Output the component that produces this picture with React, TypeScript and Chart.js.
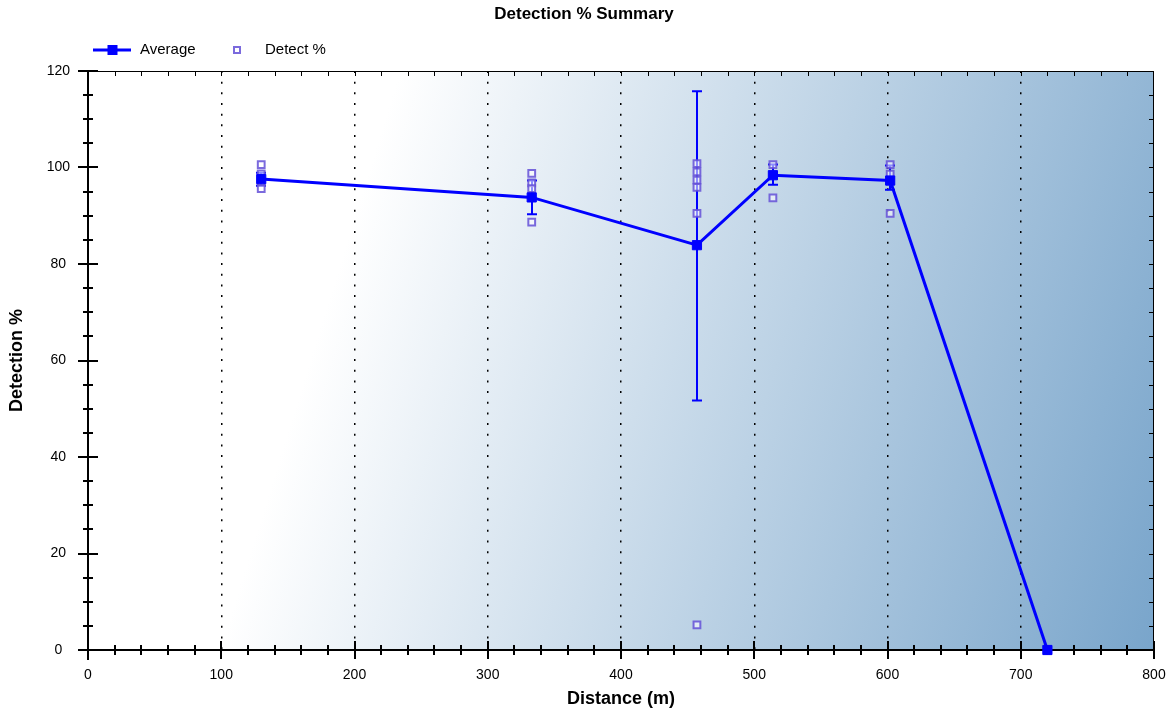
import React, { useEffect, useRef } from "react";
import { Chart, registerables } from "chart.js";
Chart.register(...registerables);

const TITLE = "Detection % Summary";
const X_TITLE = "Distance (m)";
const Y_TITLE = "Detection %";
const avgLabel = "Average";
const detLabel = "Detect %";

const avgDistance = [130, 333, 457, 514, 602, 720];
const avgValue = [97.6, 93.8, 83.9, 98.4, 97.3, 0];
const errLow = [96.2, 90.3, 51.7, 96.4, 95.4, 0];
const errHigh = [98.9, 97.3, 115.8, 100.6, 100.4, 0];

const detectDistance = [
  130, 130, 130, 130,
  333, 333, 333, 333,
  457, 457, 457, 457, 457, 457,
  514, 514, 514,
  602, 602, 602, 602,
  720, 720,
];
const detectValue = [
  100.6, 98.7, 97.0, 95.6,
  98.8, 96.8, 95.6, 88.7,
  100.8, 99.1, 97.4, 95.9, 90.5, 5.2,
  100.6, 98.4, 93.7,
  100.6, 98.6, 97.2, 90.5,
  0, 0,
];

const X_MIN = 0, X_MAX = 800, X_MAJOR = 100, X_MINOR = 20;
const Y_MIN = 0, Y_MAX = 120, Y_MAJOR = 20, Y_MINOR = 5;

const FONT = "'Liberation Sans', Arial, sans-serif";
const BLUE = "#0000ff";
const DET_STROKE = "rgba(100,80,215,0.85)";
const DET_FILL = "rgba(255,255,255,0.55)";

const customPlugin = {
  id: "customDecor",
  beforeDraw(chart: any) {
    const { ctx, chartArea: a } = chart;
    ctx.save();
    ctx.fillStyle = "#ffffff";
    ctx.fillRect(0, 0, chart.width, chart.height);
    const w = a.right - a.left;
    const h = a.bottom - a.top;
    const x0 = a.left + 0.1238 * w;
    const y0 = a.bottom;
    const x1 = x0 + 0.799 * w;
    const y1 = a.bottom + 0.457 * h;
    const g = ctx.createLinearGradient(x0, y0, x1, y1);
    g.addColorStop(0, "rgb(255,255,255)");
    g.addColorStop(1, "rgb(121,165,203)");
    ctx.fillStyle = g;
    ctx.fillRect(a.left, a.top, w, h);
    ctx.restore();
  },
  beforeDatasetsDraw(chart: any) {
    const { ctx, chartArea: a, scales } = chart;
    const xs = scales.x, ys = scales.y;
    ctx.save();
    ctx.strokeStyle = "#000";
    ctx.lineWidth = 1;
    ctx.beginPath();
    ctx.moveTo(a.left, a.top + 0.5);
    ctx.lineTo(a.right, a.top + 0.5);
    ctx.moveTo(a.right - 0.5, a.top);
    ctx.lineTo(a.right - 0.5, a.bottom);
    ctx.stroke();
    ctx.beginPath();
    for (let v = X_MIN + X_MINOR; v < X_MAX; v += X_MINOR) {
      const px = Math.round(xs.getPixelForValue(v)) + 0.5;
      ctx.moveTo(px, a.top);
      ctx.lineTo(px, a.top + 5);
    }
    for (let v = Y_MIN + Y_MINOR; v < Y_MAX; v += Y_MINOR) {
      const py = Math.round(ys.getPixelForValue(v)) + 0.5;
      ctx.moveTo(a.right, py);
      ctx.lineTo(a.right - 5, py);
    }
    ctx.stroke();
    ctx.lineWidth = 2;
    ctx.beginPath();
    ctx.moveTo(a.left, a.top);
    ctx.lineTo(a.left, a.bottom + 10);
    ctx.moveTo(a.left - 10, a.bottom);
    ctx.lineTo(a.right, a.bottom);
    ctx.stroke();
    ctx.beginPath();
    for (let v = Y_MIN; v <= Y_MAX + 0.001; v += Y_MINOR) {
      const py = Math.round(ys.getPixelForValue(v));
      const major = Math.abs(v % Y_MAJOR) < 0.001;
      const len = major ? 10 : 5;
      ctx.moveTo(a.left - len, py);
      ctx.lineTo(a.left + len, py);
    }
    for (let v = X_MIN; v < X_MAX + 0.001; v += X_MINOR) {
      const px = Math.round(xs.getPixelForValue(v));
      const major = Math.abs(v % X_MAJOR) < 0.001;
      const len = major ? 9 : 5;
      ctx.moveTo(px, a.bottom - len);
      ctx.lineTo(px, a.bottom + len);
    }
    ctx.stroke();
    ctx.strokeStyle = BLUE;
    ctx.lineWidth = 2;
    ctx.beginPath();
    for (let i = 0; i < avgDistance.length; i++) {
      if (errHigh[i] === errLow[i]) continue;
      const px = Math.round(xs.getPixelForValue(avgDistance[i]));
      const pHi = ys.getPixelForValue(errHigh[i]);
      const pLo = ys.getPixelForValue(errLow[i]);
      ctx.moveTo(px, pHi);
      ctx.lineTo(px, pLo);
      ctx.moveTo(px - 5, pHi);
      ctx.lineTo(px + 5, pHi);
      ctx.moveTo(px - 5, pLo);
      ctx.lineTo(px + 5, pLo);
    }
    ctx.stroke();
    ctx.restore();
  },
  afterDraw(chart: any) {
    const { ctx } = chart;
    ctx.save();
    ctx.fillStyle = "#000";
    ctx.font = `bold 17px ${FONT}`;
    ctx.textAlign = "center";
    ctx.textBaseline = "middle";
    ctx.fillText(TITLE, 584, 14);
    const ly = 50;
    ctx.strokeStyle = BLUE;
    ctx.lineWidth = 3;
    ctx.beginPath();
    ctx.moveTo(93, ly);
    ctx.lineTo(131, ly);
    ctx.stroke();
    ctx.fillStyle = BLUE;
    ctx.fillRect(107.5, ly - 5, 10, 10);
    ctx.font = `15px ${FONT}`;
    ctx.textAlign = "left";
    ctx.fillStyle = "#000";
    ctx.fillText(avgLabel, 140, ly);
    ctx.fillStyle = DET_FILL;
    ctx.strokeStyle = DET_STROKE;
    ctx.lineWidth = 2;
    ctx.fillRect(234, ly - 3, 6, 6);
    ctx.strokeRect(234, ly - 3, 6, 6);
    ctx.fillStyle = "#000";
    ctx.fillText(detLabel, 265, ly);
    ctx.restore();
  },
};

export default function App() {
  const ref = useRef<HTMLCanvasElement>(null);
  useEffect(() => {
    if (!ref.current) return;
    const chart = new Chart(ref.current, {
      type: "scatter",
      data: {
        datasets: [
          {
            label: avgLabel,
            data: avgDistance.map((x, i) => ({ x, y: avgValue[i] })),
            showLine: true,
            borderColor: BLUE,
            backgroundColor: BLUE,
            borderWidth: 3,
            pointStyle: "rect",
            pointRadius: 6.5,
            pointBorderWidth: 1,
            pointBackgroundColor: BLUE,
            pointBorderColor: BLUE,
            clip: false,
            order: 0,
          } as any,
          {
            label: detLabel,
            data: detectDistance.map((x, i) => ({ x, y: detectValue[i] })),
            showLine: false,
            pointStyle: "rect",
            pointRadius: 4.8,
            pointBorderWidth: 2,
            pointBackgroundColor: DET_FILL,
            pointBorderColor: DET_STROKE,
            clip: false,
            order: 1,
          } as any,
        ],
      },
      options: {
        animation: false,
        responsive: false,
        events: [],
        layout: { padding: { top: 71, right: 15, bottom: 0, left: 0 } },
        plugins: {
          legend: { display: false },
          title: { display: false },
          tooltip: { enabled: false },
        },
        scales: {
          x: {
            type: "linear",
            min: X_MIN,
            max: X_MAX,
            afterFit: (s: any) => {
              s.height = 66;
              s.paddingLeft = 0;
              s.paddingRight = 0;
            },
            ticks: {
              stepSize: X_MAJOR,
              color: "#000",
              font: { family: FONT, size: 14 },
              padding: 17,
              maxRotation: 0,
            },
            grid: {
              drawTicks: false,
              color: (c: any) =>
                c.tick && c.tick.value > X_MIN && c.tick.value < X_MAX ? "#000" : "rgba(0,0,0,0)",
              lineWidth: 1.5,
            },
            border: { display: false, dash: [2, 8.67] },
            title: {
              display: true,
              text: X_TITLE,
              color: "#000",
              font: { family: FONT, size: 18, weight: "bold" },
              padding: { top: 0, bottom: 6 },
            },
          } as any,
          y: {
            type: "linear",
            min: Y_MIN,
            max: Y_MAX,
            afterFit: (s: any) => {
              s.width = 88;
              s.paddingTop = 0;
              s.paddingBottom = 0;
            },
            ticks: {
              stepSize: Y_MAJOR,
              color: "#000",
              font: { family: FONT, size: 14 },
              padding: 18,
              crossAlign: "center",
            },
            grid: { display: false, drawTicks: false },
            border: { display: false },
            title: {
              display: true,
              text: Y_TITLE,
              color: "#000",
              font: { family: FONT, size: 18, weight: "bold" },
              padding: { top: 6, bottom: 0 },
            },
          } as any,
        },
      },
      plugins: [customPlugin],
    });
    return () => chart.destroy();
  }, []);
  return (
    <div style={{ position: "absolute", left: 0, top: 0, width: 1169, height: 716 }}>
      <canvas ref={ref} width={1169} height={716} />
    </div>
  );
}
